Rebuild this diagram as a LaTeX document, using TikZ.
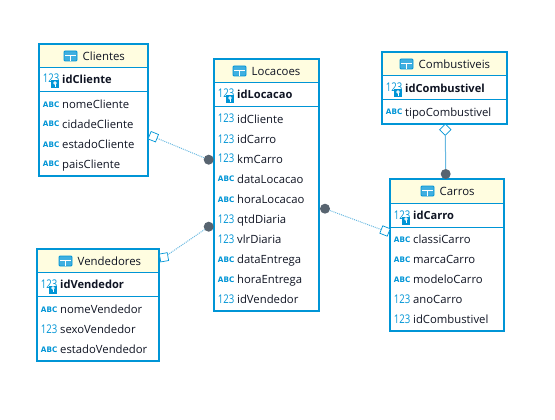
\documentclass[tikz,border=0pt]{standalone}
\usepackage{fontspec}
\setmainfont{Open Sans}
\newfontfamily\abcfont{DejaVu Sans}
\usepackage{tikz}
\usetikzlibrary{arrows}
\definecolor{tableblue}{RGB}{0,149,214}
\definecolor{titlefill}{RGB}{255,253,224}
\definecolor{linkblue}{RGB}{105,185,225}
\definecolor{dotgray}{RGB}{88,100,112}
\definecolor{textdark}{RGB}{15,20,35}
\tikzset{
  tablebox/.style={draw=tableblue,line width=2.4pt,fill=white,inner sep=0pt,outer sep=0pt},
  sepline/.style={draw=tableblue,line width=0.9pt},
  titletext/.style={anchor=base west,inner sep=0pt,text=textdark,font=\fontsize{11.4}{14}\selectfont},
  rowtext/.style={anchor=base west,inner sep=0pt,text=textdark,font=\fontsize{11.3}{14}\selectfont},
  keytext/.style={rowtext,font=\fontsize{11.1}{14}\selectfont\bfseries},
  numicon/.style={anchor=base east,inner sep=0pt,text=tableblue,xscale=0.8,font=\fontsize{12}{14}\selectfont},
  abcicon/.style={anchor=base east,inner sep=0pt,text=tableblue,xscale=0.95,font=\abcfont\fontsize{7.6}{14}\selectfont\bfseries},
  keybadge/.style={fill=tableblue,inner sep=0pt,minimum width=8pt,minimum height=8pt},
  dotmark/.style={circle,fill=dotgray,draw=none,minimum size=10pt,inner sep=0pt,outer sep=0pt},
  diamondmark/.style={rectangle,draw=tableblue,line width=0.7pt,fill=white,minimum size=8pt,inner sep=0pt,outer sep=0pt},
  dotlink/.style={draw=linkblue,line width=1pt,densely dotted},
  solidlink/.style={draw=linkblue,line width=1pt}
}
% frame: name, left, top, right, bottom, first and second separator
\newcommand{\tableframe}[7]{
  \pgfmathsetmacro{\midx}{(#2+#4)/2}
  \pgfmathsetmacro{\midy}{(#3+#5)/2}
  \pgfmathsetmacro{\boxw}{#4-#2}
  \pgfmathsetmacro{\boxh}{#5-#3}
  \node[tablebox,minimum width=\boxw pt,minimum height=\boxh pt] (#1) at (\midx,\midy) {};
  \fill[titlefill] (#2,#3) rectangle (#4,#6);
  \draw[sepline] (#2,#6) -- (#4,#6);
  \draw[sepline] (#2,#7) -- (#4,#7);
  \draw[tableblue,line width=2.4pt] (#1.north west) rectangle (#1.south east);
}
% title: name, icon left, middle y, text
\newcommand{\tabletitle}[4]{
  \fill[tableblue!75,rounded corners=1pt] (#2,#3-5) rectangle (#2+13,#3+5);
  \draw[tableblue,line width=0.8pt,rounded corners=1pt] (#2,#3-5) rectangle (#2+13,#3+5);
  \fill[white] (#2+0.8,#3-1) rectangle (#2+12.2,#3+0.2);
  \fill[white] (#2+6.1,#3-1) rectangle (#2+6.9,#3+5);
  \node[titletext] (#1) at (#2+18.5,#3+4.3) {#4};
}
% rows: name, text left, middle y, text
\newcommand{\abcrow}[4]{
  \node[rowtext] (#1) at (#2,#3+4.3) {#4};
  \node[abcicon] (#1icon) at (#2-2.5,#3+3) {ABC};
}
\newcommand{\numrow}[4]{
  \node[rowtext] (#1) at (#2,#3+4.3) {#4};
  \node[numicon] (#1icon) at (#2-2.5,#3+4) {123};
}
\newcommand{\keyrow}[4]{
  \node[keytext] (#1) at (#2,#3+4.3) {#4};
  \node[numicon] (#1icon) at (#2-2.5,#3+4) {123};
  \node[keybadge] (#1key) at (#2-7,#3+5.5) {};
  \draw[white,line width=0.8pt] (#2-7,#3+4) circle [radius=1.3];
  \draw[white,line width=0.8pt] (#2-7,#3+5.3) -- (#2-7,#3+8);
}
\begin{document}
\begin{tikzpicture}[x=1pt,y=-1pt]
  \useasboundingbox (0,0) rectangle (555,420);
  % Clientes
  \tableframe{clientes}{39}{44}{148}{176}{67}{91}
  \tabletitle{clientesTitle}{64}{56}{Clientes}
  \keyrow{idCliente}{62}{79}{idCliente}
  \abcrow{nomeCliente}{62}{104}{nomeCliente}
  \abcrow{cidadeCliente}{62}{124}{cidadeCliente}
  \abcrow{estadoCliente}{62}{144}{estadoCliente}
  \abcrow{paisCliente}{62}{164}{paisCliente}
  % Locacoes
  \tableframe{locacoes}{214}{59}{319}{311}{82}{106}
  \tabletitle{locacoesTitle}{233}{71}{Locacoes}
  \keyrow{idLocacao}{237}{94}{idLocacao}
  \numrow{idClienteL}{237}{119}{idCliente}
  \numrow{idCarroL}{237}{139}{idCarro}
  \numrow{kmCarro}{237}{159}{kmCarro}
  \abcrow{dataLocacao}{237}{179}{dataLocacao}
  \abcrow{horaLocacao}{237}{199}{horaLocacao}
  \numrow{qtdDiaria}{237}{219}{qtdDiaria}
  \numrow{vlrDiaria}{237}{239}{vlrDiaria}
  \abcrow{dataEntrega}{237}{259}{dataEntrega}
  \abcrow{horaEntrega}{237}{279}{horaEntrega}
  \numrow{idVendedorL}{237}{299}{idVendedor}
  % Combustiveis
  \tableframe{combustiveis}{382}{52}{507}{124}{75}{99}
  \tabletitle{combustiveisTitle}{400}{64}{Combustiveis}
  \keyrow{idCombustivel}{405}{88}{idCombustivel}
  \abcrow{tipoCombustivel}{405}{112}{tipoCombustivel}
  % Carros
  \tableframe{carros}{390}{179}{504}{331}{203}{227}
  \tabletitle{carrosTitle}{421}{191}{Carros}
  \keyrow{idCarro}{413}{215}{idCarro}
  \abcrow{classiCarro}{413}{239}{classiCarro}
  \abcrow{marcaCarro}{413}{259}{marcaCarro}
  \abcrow{modeloCarro}{413}{279}{modeloCarro}
  \numrow{anoCarro}{413}{299}{anoCarro}
  \numrow{idCombustivelC}{413}{319}{idCombustivel}
  % Vendedores
  \tableframe{vendedores}{37}{249}{159}{361}{272}{296}
  \tabletitle{vendedoresTitle}{59}{261}{Vendedores}
  \keyrow{idVendedor}{60}{284}{idVendedor}
  \abcrow{nomeVendedor}{60}{309}{nomeVendedor}
  \numrow{sexoVendedor}{60}{329}{sexoVendedor}
  \abcrow{estadoVendedor}{60}{349}{estadoVendedor}
  % link ends
  \node[dotmark] (dotClientes) at (208.7,159.7) {};
  \node[diamondmark,rotate=-22] (diaClientes) at (153.3,136.7) {};
  \node[dotmark] (dotVendedores) at (208.7,226.7) {};
  \node[diamondmark,rotate=10] (diaVendedores) at (164,257.3) {};
  \node[dotmark] (dotCarros) at (325,208.7) {};
  \node[diamondmark,rotate=-22] (diaCarros) at (385,231) {};
  \node[dotmark] (dotCombustiveis) at (445.7,174) {};
  \node[diamondmark,rotate=45] (diaCombustiveis) at (445.3,129.7) {};
  % links
  \draw[dotlink] (diaClientes) -- (dotClientes);
  \draw[dotlink] (diaVendedores) -- (dotVendedores);
  \draw[dotlink] (dotCarros) -- (diaCarros);
  \draw[solidlink] (diaCombustiveis) -- (dotCombustiveis);
\end{tikzpicture}
\end{document}
